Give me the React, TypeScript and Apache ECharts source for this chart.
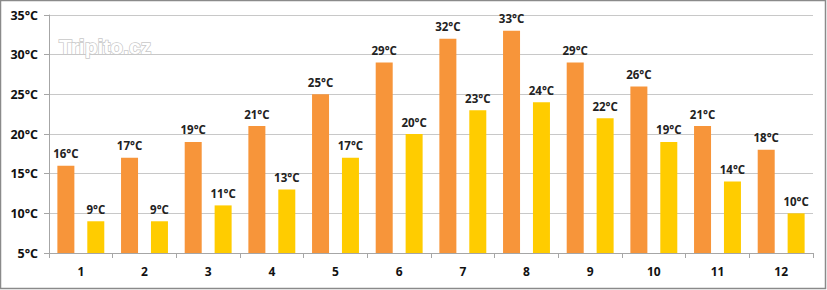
import React, { useEffect, useRef } from "react";
import * as echarts from "echarts";

const months = ["1", "2", "3", "4", "5", "6", "7", "8", "9", "10", "11", "12"];
const highTemps = [16, 17, 19, 21, 25, 29, 32, 33, 29, 26, 21, 18];
const lowTemps = [9, 9, 11, 13, 17, 20, 23, 24, 22, 19, 14, 10];

export default function App() {
  const ref = useRef<HTMLDivElement>(null);
  useEffect(() => {
    if (!ref.current) return;
    const chart = echarts.init(ref.current, null, { renderer: "svg" });
    const labelStyle = {
      show: true,
      position: "top" as const,
      distance: 6,
      formatter: "{c}°C",
      color: "#222",
      fontSize: 11.5,
      fontWeight: "bold" as const,
      fontFamily: "Open Sans, Liberation Sans, sans-serif",
    };
    chart.setOption({
      animation: false,
      backgroundColor: "#fff",
      graphic: [
        {
          type: "rect",
          shape: { x: 0.5, y: 0.5, width: 825, height: 288 },
          style: { fill: "none", stroke: "#8a8a8a", lineWidth: 1.5 },
          z: 100,
        },
        {
          type: "text",
          x: 59,
          y: 36,
          style: {
            text: "Tripito.cz",
            fontSize: 21,
            fontWeight: "bold",
            fontFamily: "Liberation Sans, Arial, sans-serif",
            fill: "#ffffff",
            stroke: "#c8c8c8",
            lineWidth: 1.5,
          },
          z: 50,
        },
      ],
      grid: { left: 49, right: 14, top: 15, bottom: 37 },
      xAxis: {
        type: "category",
        data: months,
        axisLine: { lineStyle: { color: "#a6a6a6", width: 1 } },
        axisTick: { show: true, length: 5, lineStyle: { color: "#a6a6a6" } },
        axisLabel: {
          color: "#111",
          fontSize: 12,
          fontWeight: "bold",
          margin: 12,
          fontFamily: "Open Sans, Liberation Sans, sans-serif",
        },
      },
      yAxis: {
        type: "value",
        min: 5,
        max: 35,
        interval: 5,
        axisLine: { show: true, lineStyle: { color: "#a6a6a6" } },
        axisTick: { show: true, length: 5, lineStyle: { color: "#a6a6a6" } },
        splitLine: { lineStyle: { color: "#c8c8c8" } },
        axisLabel: {
          formatter: "{value}°C",
          color: "#111",
          fontSize: 12.5,
          fontWeight: "bold",
          margin: 11,
          fontFamily: "Open Sans, Liberation Sans, sans-serif",
        },
      },
      series: [
        {
          type: "bar",
          data: highTemps,
          barWidth: 17,
          barGap: "76%",
          itemStyle: { color: "#f7953a" },
          label: labelStyle,
        },
        {
          type: "bar",
          data: lowTemps,
          barWidth: 17,
          itemStyle: { color: "#ffcc00" },
          label: labelStyle,
        },
      ],
    });
    return () => chart.dispose();
  }, []);
  return (
    <div
      ref={ref}
      style={{ position: "fixed", left: 0, top: 0, width: 827, height: 290 }}
    />
  );
}
